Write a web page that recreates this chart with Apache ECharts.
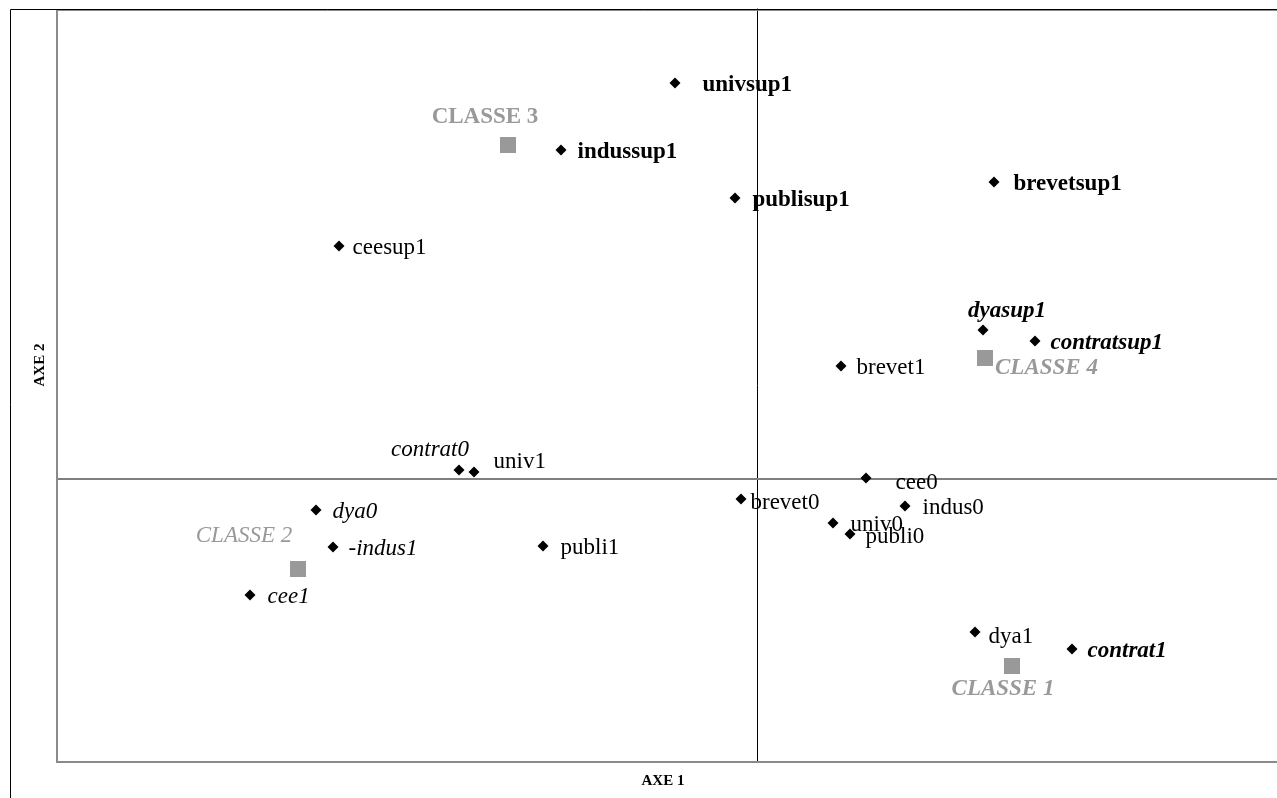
<!DOCTYPE html>
<html>
<head>
<meta charset="utf-8">
<title>AXE 1 / AXE 2</title>
<script src="https://cdn.jsdelivr.net/npm/echarts@6/dist/echarts.min.js"></script>
<style>
  html, body { margin: 0; padding: 0; background: #fff; }
  #chart { width: 1277px; height: 798px; }
</style>
</head>
<body>
<div id="chart"></div>
<script>
// modalities (points) on the first factorial plane
const pointNames = ['univsup1', 'indussup1', 'publisup1', 'brevetsup1', 'ceesup1',
  'dyasup1', 'contratsup1', 'brevet1', 'contrat0', 'univ1', 'cee0', 'brevet0',
  'indus0', 'univ0', 'publi0', 'dya0', '-indus1', 'publi1', 'cee1', 'dya1', 'contrat1']
const pointX = [-0.164, -0.392, -0.044, 0.474, -0.836,
  0.452, 0.556, 0.168, -0.596, -0.566, 0.218, -0.032,
  0.296, 0.152, 0.186, -0.882, -0.848, -0.428, -1.014, 0.436, 0.630]
const pointY = [0.792, 0.658, 0.562, 0.594, 0.466,
  0.298, 0.276, 0.226, 0.018, 0.014, 0.002, -0.040,
  -0.054, -0.088, -0.110, -0.062, -0.136, -0.134, -0.232, -0.306, -0.340]

// class centres
const classNames = ['CLASSE 1', 'CLASSE 2', 'CLASSE 3', 'CLASSE 4']
const classX = [0.510, -0.918, -0.498, 0.456]
const classY = [-0.374, -0.180, 0.668, 0.242]

const axisNames = ['AXE 1', 'AXE 2']

const serif = '"Liberation Serif", "Times New Roman", serif'

// label look, by name
const labelCfg = {
  'univsup1': { fontWeight: 'bold', distance: 22 },
  'indussup1': { fontWeight: 'bold', distance: 11 },
  'publisup1': { fontWeight: 'bold', distance: 12 },
  'brevetsup1': { fontWeight: 'bold', distance: 14 },
  'ceesup1': { distance: 8 },
  'dyasup1': { fontWeight: 'bold', fontStyle: 'italic', position: 'top', distance: 2, offset: [24, 0] },
  'contratsup1': { fontWeight: 'bold', fontStyle: 'italic', distance: 10 },
  'brevet1': { distance: 10 },
  'contrat0': { fontStyle: 'italic', position: 'top', distance: 3, offset: [-29, 0] },
  'univ1': { distance: 14, offset: [0, -10] },
  'cee0': { distance: 24, offset: [0, 5] },
  'brevet0': { distance: 4, offset: [0, 4] },
  'indus0': { distance: 12 },
  'univ0': { distance: 12 },
  'publi0': { distance: 10, offset: [0, 3] },
  'dya0': { fontStyle: 'italic', distance: 11 },
  '-indus1': { fontStyle: 'italic', distance: 10 },
  'publi1': { distance: 12 },
  'cee1': { fontStyle: 'italic', distance: 12 },
  'dya1': { distance: 8, offset: [0, 5] },
  'contrat1': { fontWeight: 'bold', fontStyle: 'italic', distance: 10 },
  'CLASSE 1': { fontWeight: 'bold', fontStyle: 'italic', position: 'bottom', distance: 4, offset: [-9, 0] },
  'CLASSE 2': { fontStyle: 'italic', position: 'top', distance: 14, offset: [-54, 0] },
  'CLASSE 3': { fontWeight: 'bold', position: 'top', distance: 8, offset: [-23, 0] },
  'CLASSE 4': { fontWeight: 'bold', fontStyle: 'italic', position: 'right', distance: 2, offset: [0, 10] }
}

function makeLabel (name, color) {
  const c = labelCfg[name] || {}
  return {
    show: true,
    formatter: '{b}',
    position: c.position || 'right',
    distance: c.distance != null ? c.distance : 8,
    offset: c.offset || [0, 2],
    fontFamily: serif,
    fontSize: 23,
    fontWeight: c.fontWeight || 'normal',
    fontStyle: c.fontStyle || 'normal',
    color: color
  }
}

const pointData = pointNames.map((n, i) => ({
  name: n,
  value: [pointX[i], pointY[i]],
  label: makeLabel(n, '#000')
}))

const classData = classNames.map((n, i) => ({
  name: n,
  value: [classX[i], classY[i]],
  label: makeLabel(n, '#999999')
}))

const chart = echarts.init(document.getElementById('chart'))

// plot frame: left, top and bottom only (right side runs off the picture)
const frameStyle = { stroke: '#8a8a8a', lineWidth: 2 }

chart.setOption({
  animation: false,
  backgroundColor: '#fff',
  grid: {
    show: false,
    left: 57,
    top: 9,
    right: 0,
    bottom: 36
  },
  xAxis: {
    type: 'value',
    min: -1.4,
    max: 1.04,
    axisLine: { onZero: true, lineStyle: { color: '#7f7f7f', width: 2 } },
    axisTick: { show: false },
    axisLabel: { show: false },
    splitLine: { show: false }
  },
  yAxis: {
    type: 'value',
    min: -0.566,
    max: 0.94,
    axisLine: { onZero: true, lineStyle: { color: '#000', width: 1 } },
    axisTick: { show: false },
    axisLabel: { show: false },
    splitLine: { show: false }
  },
  graphic: [
    {
      type: 'rect',
      shape: { x: 10.5, y: 9.5, width: 1300, height: 820 },
      style: { fill: 'none', stroke: '#000', lineWidth: 1 },
      silent: true,
      z: 100
    },
    {
      type: 'polyline',
      shape: { points: [[1290, 10], [57, 10], [57, 762], [1290, 762]] },
      style: frameStyle,
      silent: true,
      z: 99
    },
    {
      type: 'text',
      x: 663,
      y: 781,
      style: {
        text: axisNames[0],
        fontFamily: serif,
        fontWeight: 'bold',
        fontSize: 15,
        fill: '#000',
        align: 'center',
        verticalAlign: 'middle'
      }
    },
    {
      type: 'text',
      x: 40,
      y: 365,
      rotation: Math.PI / 2,
      style: {
        text: axisNames[1],
        fontFamily: serif,
        fontWeight: 'bold',
        fontSize: 15,
        fill: '#000',
        align: 'center',
        verticalAlign: 'middle'
      }
    }
  ],
  series: [
    {
      name: 'modalites',
      type: 'scatter',
      symbol: 'diamond',
      symbolSize: 11,
      itemStyle: { color: '#000', opacity: 1 },
      data: pointData,
      z: 3
    },
    {
      name: 'classes',
      type: 'scatter',
      symbol: 'rect',
      symbolSize: 16,
      itemStyle: { color: '#999999', opacity: 1 },
      data: classData,
      z: 2
    }
  ]
})
</script>
</body>
</html>
